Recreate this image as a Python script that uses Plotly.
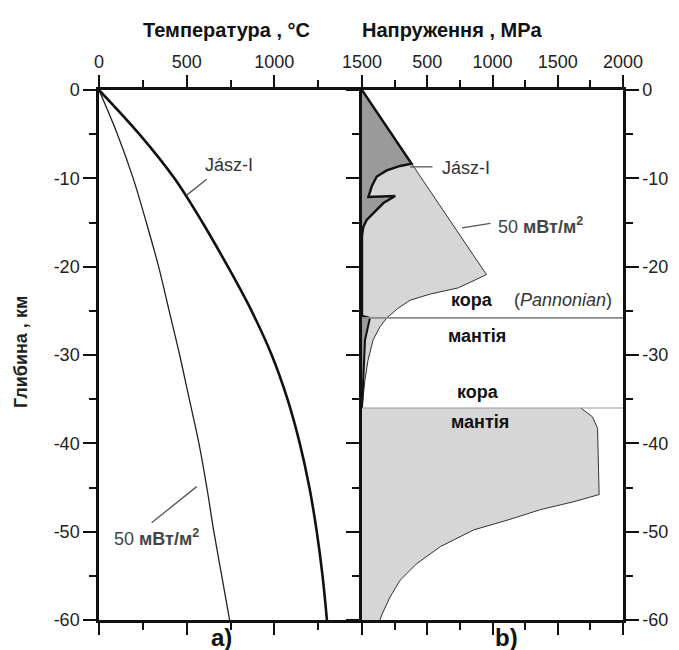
import plotly.graph_objects as go

# ---------------- data ----------------
# a) geotherms
depth_km = [0, -5, -10, -15, -20, -25, -30, -35, -40, -45, -50, -55, -60]
temp_jasz = [0, 230, 430, 590, 735, 870, 985, 1075, 1145, 1200, 1242, 1275, 1300]
temp_50 = [0, 105, 195, 270, 340, 400, 460, 515, 570, 615, 655, 700, 745]

# b) strength envelopes
# 50 mW/m2, crust part (brittle line then ductile curve)
env50_crust_stress = [0, 954, 738, 523, 369, 277, 190, 138, 85, 46, 23, 8, 0]
env50_crust_depth = [0, -20.9, -22.4, -23.1, -23.8, -24.7, -25.8, -26.8, -28.3, -30.6, -32.8, -35.4, -36]
# 50 mW/m2, mantle part
env50_mantle_stress = [0, 1677, 1766, 1805, 1817, 1625, 1369, 1113, 856, 600, 421, 292, 215, 152, 138, 0]
env50_mantle_depth = [-36, -36, -37, -38.3, -45.8, -46.6, -47.5, -48.7, -49.8, -51.7, -53.6, -55.5, -57.4, -59.4, -60, -60]
# Jász-I envelope, crust
jasz_stress = [0, 380, 292, 190, 113, 75, 49, 254, 164, 126, 87, 36, 10, 0, 0]
jasz_depth = [0, -8.35, -8.6, -9.1, -9.8, -10.9, -12.1, -12.0, -12.8, -13.4, -13.9, -14.7, -15.5, -16.5, -25.6]
# Jász-I, small mantle part
jasz_mantle_stress = [0, 17, 61, 23, 0]
jasz_mantle_depth = [-25.6, -25.6, -25.8, -28.3, -36]

moho_pannonian = -25.8
moho_ref = -36

temp_ticks = [0, 500, 1000, 1500]
temp_minor = [250, 750, 1250]
stress_ticks = [500, 1000, 1500, 2000]
stress_minor = [250, 750, 1250, 1750]
depth_ticks = [0, -10, -20, -30, -40, -50, -60]
depth_labels = ["0", "-10", "-20", "-30", "-40", "-50", "-60"]
depth_minor = [-5, -15, -25, -35, -45, -55]

FONT = "Liberation Sans"
LIGHT = "#d6d6d6"
DARK = "#9a9a9a"

# page offset (browser body margin) compensation: plot area at screen x 99..623, y 90..620
OFF = 8
PL, PR, PT, PB = 99, 623, 90, 620

fig = go.Figure()

# ---- panel a ----
fig.add_trace(go.Scatter(x=temp_50, y=depth_km, mode="lines", line_shape="spline",
                         line=dict(color="#222222", width=1.3), xaxis="x", yaxis="y",
                         hoverinfo="skip"))
fig.add_trace(go.Scatter(x=temp_jasz, y=depth_km, mode="lines", line_shape="spline",
                         line=dict(color="#111111", width=2.6), xaxis="x", yaxis="y",
                         hoverinfo="skip"))

# ---- panel b ----
fig.add_trace(go.Scatter(x=env50_crust_stress, y=env50_crust_depth, mode="lines", fill="toself",
                         fillcolor=LIGHT, line=dict(color="#333333", width=1),
                         xaxis="x2", yaxis="y2", hoverinfo="skip"))
fig.add_trace(go.Scatter(x=env50_mantle_stress, y=env50_mantle_depth, mode="lines", fill="toself",
                         fillcolor=LIGHT, line=dict(color="rgba(0,0,0,0)", width=0),
                         xaxis="x2", yaxis="y2", hoverinfo="skip"))
fig.add_trace(go.Scatter(x=env50_mantle_stress[1:-1], y=env50_mantle_depth[1:-1], mode="lines",
                         line=dict(color="#333333", width=1),
                         xaxis="x2", yaxis="y2", hoverinfo="skip"))
fig.add_trace(go.Scatter(x=jasz_stress, y=jasz_depth, mode="lines", fill="toself",
                         fillcolor=DARK, line=dict(color="#111111", width=2.4),
                         xaxis="x2", yaxis="y2", hoverinfo="skip"))
fig.add_trace(go.Scatter(x=jasz_mantle_stress, y=jasz_mantle_depth, mode="lines", fill="toself",
                         fillcolor=DARK, line=dict(color="#111111", width=2),
                         xaxis="x2", yaxis="y2", hoverinfo="skip"))
fig.add_trace(go.Scatter(x=[0, 2000], y=[moho_pannonian, moho_pannonian], mode="lines",
                         line=dict(color="#8a8a8a", width=1.8), xaxis="x2", yaxis="y2",
                         hoverinfo="skip"))
fig.add_trace(go.Scatter(x=[0, 2000], y=[moho_ref, moho_ref], mode="lines",
                         line=dict(color="#9a9a9a", width=1.2), xaxis="x2", yaxis="y2",
                         hoverinfo="skip"))

W, H = 679, 650
split = (362 - PL) / float(PR - PL)

tickfont = dict(family=FONT, size=18, color="#222222")
common_x = dict(side="top", ticks="outside", ticklen=12, tickwidth=2, tickcolor="#111",
                showline=True, linewidth=2.5, linecolor="#111", mirror="ticks",
                showgrid=False, zeroline=False, tickfont=tickfont, fixedrange=True)
common_y = dict(range=[-60, 0], tickvals=depth_ticks, ticktext=depth_labels,
                ticks="outside", ticklen=13, tickwidth=2, tickcolor="#111",
                showline=True, linewidth=2.5, linecolor="#111",
                showgrid=False, zeroline=False, tickfont=tickfont, fixedrange=True,
                minor=dict(tickvals=depth_minor, ticks="outside", ticklen=7, tickwidth=2,
                           tickcolor="#111"))

fig.update_layout(
    width=W, height=H,
    margin=dict(l=PL - OFF, r=W - (PR - OFF), t=PT - OFF, b=H - (PB - OFF)),
    paper_bgcolor="white", plot_bgcolor="white",
    showlegend=False,
    xaxis=dict(domain=[0, split], range=[0, 1500], anchor="y",
               tickvals=temp_ticks, ticktext=[str(v) for v in temp_ticks],
               minor=dict(tickvals=temp_minor, ticks="outside", ticklen=7, tickwidth=2,
                          tickcolor="#111"),
               **common_x),
    xaxis2=dict(domain=[split, 1], range=[0, 2000], anchor="y2",
                tickvals=stress_ticks, ticktext=[str(v) for v in stress_ticks],
                minor=dict(tickvals=stress_minor, ticks="outside", ticklen=7, tickwidth=2,
                           tickcolor="#111"),
                **common_x),
    yaxis=dict(anchor="x", side="left", mirror=False, **common_y),
    yaxis2=dict(anchor="x2", side="right", mirror="ticks", **common_y),
)

def px_x(p):
    return (p - PL) / float(PR - PL)

def px_y(p):
    return (PB - p) / float(PB - PT)

bold = dict(family=FONT, size=18, color="#111111")
C = dict(xanchor="center", yanchor="middle", showarrow=False)
ann = []
# titles
ann.append(dict(text="<b>Температура , °C</b>", x=px_x(226), y=px_y(30), xref="paper", yref="paper",
                font=dict(family=FONT, size=20, color="#111"), **C))
ann.append(dict(text="<b>Напруження , MPa</b>", x=px_x(452), y=px_y(30), xref="paper", yref="paper",
                font=dict(family=FONT, size=20, color="#111"), **C))
ann.append(dict(text="<b>Глибина , км</b>", x=px_x(21), y=px_y(352), xref="paper", yref="paper",
                textangle=-90, font=dict(family=FONT, size=18, color="#222"), **C))
ann.append(dict(text="<b>a)</b>", x=px_x(221), y=px_y(637), xref="paper", yref="paper",
                font=dict(family=FONT, size=24, color="#111"), **C))
ann.append(dict(text="<b>b)</b>", x=px_x(506), y=px_y(637), xref="paper", yref="paper",
                font=dict(family=FONT, size=24, color="#111"), **C))

# panel a labels
ann.append(dict(text="Jász-I", x=740, y=-8.5, xref="x", yref="y",
                font=dict(family=FONT, size=18, color="#333"), **C))
ann.append(dict(text="50 <b>мВт/м<sup>2</sup></b>", x=330, y=-50.7, xref="x", yref="y",
                font=dict(family=FONT, size=18, color="#444"), **C))
# panel b labels
ann.append(dict(text="Jász-I", x=800, y=-8.8, xref="x2", yref="y2",
                font=dict(family=FONT, size=18, color="#333"), **C))
ann.append(dict(text="50 <b>мВт/м<sup>2</sup></b>", x=1369, y=-15.3, xref="x2", yref="y2",
                font=dict(family=FONT, size=18, color="#444"), **C))
ann.append(dict(text="<b>кора</b>", x=844, y=-23.8, xref="x2", yref="y2", font=bold, **C))
ann.append(dict(text="(<i>Pannonian</i>)", x=1540, y=-23.8, xref="x2", yref="y2",
                font=dict(family=FONT, size=18, color="#333"), **C))
ann.append(dict(text="<b>мантія</b>", x=882, y=-27.9, xref="x2", yref="y2", font=bold, **C))
ann.append(dict(text="<b>кора</b>", x=892, y=-34.2, xref="x2", yref="y2", font=bold, **C))
ann.append(dict(text="<b>мантія</b>", x=907, y=-37.6, xref="x2", yref="y2", font=bold, **C))
fig.update_layout(annotations=ann)

# leader lines
leaders = [
    ("x", "y", 614, -10.1, 500, -11.9),
    ("x", "y", 300, -49.0, 557, -44.9),
    ("x2", "y2", 369, -8.7, 540, -8.7),
    ("x2", "y2", 767, -15.6, 984, -15.1),
]
for xr, yr, x0, y0, x1, y1 in leaders:
    fig.add_shape(type="line", xref=xr, yref=yr, x0=x0, y0=y0, x1=x1, y1=y1,
                  line=dict(color="#555", width=1.3))

fig.write_html("out.html")
